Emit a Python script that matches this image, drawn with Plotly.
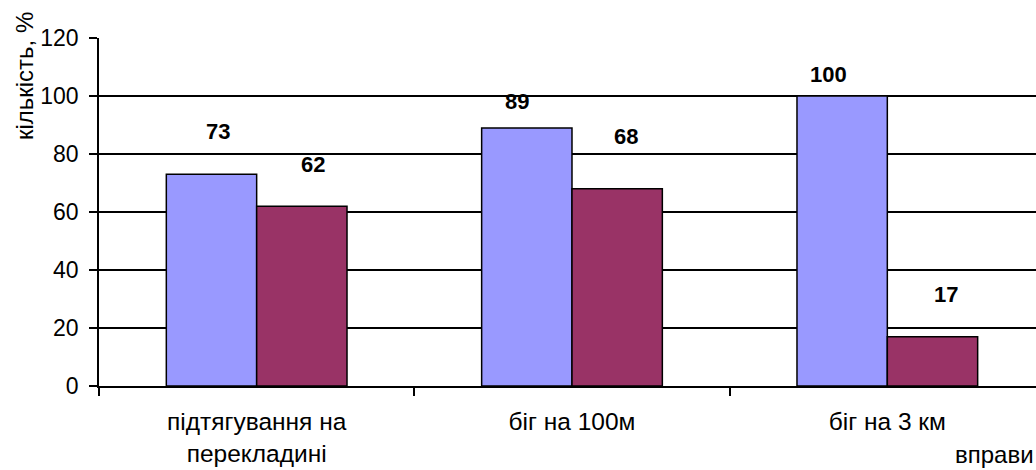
import plotly.graph_objects as go

categories = ["підтягування на<br>перекладині", "біг на 100м", "біг на 3 км"]
series_a = [73, 89, 100]
series_b = [62, 68, 17]
y_ticks = [0, 20, 40, 60, 80, 100, 120]

# label pixel offsets (style only): (dx, dy) relative to bar top centre
offs_a = [(7, 43), (-10, 26), (-14, 22)]
offs_b = [(11, 42), (9, 52), (14, 42)]

FONT = "Liberation Sans, Arial, sans-serif"

fig = go.Figure()
fig.add_trace(go.Bar(x=categories, y=series_a, marker=dict(color="#9999FF", line=dict(color="black", width=1.5)), showlegend=False))
fig.add_trace(go.Bar(x=categories, y=series_b, marker=dict(color="#993366", line=dict(color="black", width=1.5)), showlegend=False))

bargap = 0.427
half = (1 - bargap) / 4  # centre offset of each bar within group
px_per_cat = 315.3
for i, c in enumerate(categories):
    for vals, offs, sign in ((series_a, offs_a, -1), (series_b, offs_b, 1)):
        dx, dy = offs[i]
        fig.add_annotation(x=c, y=vals[i], text=f"<b>{vals[i]}</b>", showarrow=False,
                           xshift=sign * half * px_per_cat + dx, yshift=dy,
                           yanchor="middle", xanchor="center",
                           font=dict(family=FONT, size=22, color="black"))

fig.add_annotation(xref="paper", yref="paper", x=-0.080, y=0.701, text="кількість, %",
                   textangle=-90, showarrow=False, xanchor="center", yanchor="bottom",
                   font=dict(family=FONT, size=24, color="black"))
fig.add_annotation(xref="paper", yref="paper", x=1.0, y=-0.196, text="вправи",
                   showarrow=False, xanchor="right", yanchor="middle",
                   font=dict(family=FONT, size=24, color="black"))

fig.update_layout(
    width=1036, height=470,
    margin=dict(l=99, r=0, t=38, b=84),
    paper_bgcolor="white", plot_bgcolor="white",
    barmode="group", bargap=bargap, bargroupgap=0,
    font=dict(family=FONT, size=22, color="black"),
)
fig.update_xaxes(type="category", range=[-0.5, 2.4715], tickson="boundaries",
                 ticks="outside", ticklen=8, tickcolor="black", tickwidth=1.5,
                 showline=True, linecolor="black", linewidth=1.5, showgrid=False,
                 ticklabelstandoff=13,
                 tickfont=dict(family=FONT, size=24.5, color="black"))
fig.update_yaxes(range=[0, 120], tickvals=y_ticks, ticks="outside", ticklen=8,
                 tickcolor="black", tickwidth=1.5, showline=True, linecolor="black",
                 linewidth=1.5, showgrid=True, gridcolor="black", gridwidth=1.5,
                 zeroline=False, ticklabelstandoff=6,
                 tickfont=dict(family=FONT, size=23, color="black"))

fig.write_html("out.html", config={"displayModeBar": False},
               post_script="document.body.style.margin='0px';document.body.style.overflow='hidden';")
